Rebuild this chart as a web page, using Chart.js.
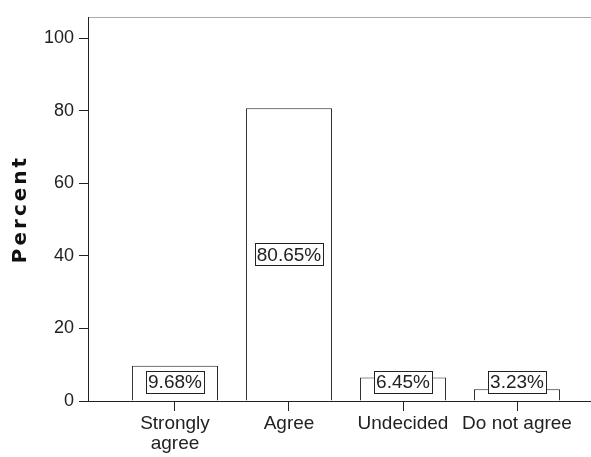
<!DOCTYPE html>
<html>
<head>
<meta charset="utf-8">
<script src="https://cdn.jsdelivr.net/npm/chart.js@4.4.0/dist/chart.umd.min.js"></script>
<style>
  html, body { margin: 0; padding: 0; background: #fff; }
  #wrap { width: 591px; height: 457px; }
</style>
</head>
<body>
<div id="wrap"><canvas id="percentChart"></canvas></div>
<script>
// categorias y porcentajes
const categorias = [['Strongly', 'agree'], 'Agree', 'Undecided', 'Do not agree'];
const porcentajes = [9.68, 80.65, 6.45, 3.23];
const ticksY = [0, 20, 40, 60, 80, 100];

// cajas con el porcentaje en medio de cada barra
const etiquetasBarras = {
    id: 'etiquetasBarras',
    afterDatasetsDraw(chart) {
        const ctx = chart.ctx;
        const meta = chart.getDatasetMeta(0);
        ctx.save();
        ctx.font = '19px "Liberation Sans", Arial, sans-serif';
        ctx.textAlign = 'center';
        ctx.textBaseline = 'middle';
        meta.data.forEach((bar, i) => {
            const texto = porcentajes[i].toFixed(2) + '%';
            const ancho = ctx.measureText(texto).width + 4;
            const alto = 22;
            let cy = (bar.y + bar.base) / 2;
            cy = Math.min(cy, bar.base - 8 - alto / 2);
            ctx.fillStyle = '#fff';
            ctx.fillRect(bar.x - ancho / 2, cy - alto / 2, ancho, alto);
            ctx.strokeStyle = '#222';
            ctx.lineWidth = 1;
            ctx.strokeRect(Math.round(bar.x - ancho / 2) + 0.5, Math.round(cy - alto / 2) + 0.5, Math.round(ancho), alto);
            ctx.fillStyle = '#222';
            ctx.fillText(texto, bar.x, cy + 1);
        });
        ctx.restore();
    }
};

const ctx = document.getElementById('percentChart').getContext('2d');

new Chart(ctx, {
    type: 'bar',
    data: {
        datasets: [{
            data: porcentajes.map((v, i) => ({ x: i + 1, y: v })),
            backgroundColor: '#fff',
            borderColor: '#222',
            borderWidth: 1,
            barPercentage: 0.755,
            categoryPercentage: 1
        }]
    },
    options: {
        responsive: true,
        maintainAspectRatio: false,
        animation: false,
        layout: { padding: { top: 17, left: 0, right: 0, bottom: 0 } },
        plugins: {
            legend: { display: false },
            tooltip: { enabled: false }
        },
        scales: {
            x: {
                type: 'linear',
                offset: false,
                min: 0.237,
                max: 4.649,
                afterBuildTicks: (scale) => {
                    scale.ticks = categorias.map((c, i) => ({ value: i + 1 }));
                },
                afterFit: (scale) => { scale.height = 56; },
                grid: { offset: false, drawOnChartArea: false, tickLength: 10, color: '#222' },
                border: { color: '#222', width: 1 },
                ticks: {
                    autoSkip: false,
                    maxRotation: 0,
                    padding: 3,
                    color: '#222',
                    font: { family: '"Liberation Sans", Arial, sans-serif', size: 19, lineHeight: 1.05 },
                    callback: (value, index) => categorias[index]
                }
            },
            x2: {
                type: 'linear',
                position: 'top',
                offset: false,
                min: 0,
                max: 1,
                afterFit: (scale) => { scale.height = 0; },
                grid: { display: false },
                ticks: { display: false },
                border: { color: '#aaa', width: 1, dash: [1, 3] }
            },
            y: {
                min: 0,
                max: 105.8,
                afterBuildTicks: (scale) => {
                    scale.ticks = ticksY.map(v => ({ value: v }));
                },
                afterFit: (scale) => {
                    scale.width = 88;
                    // titulo con letras espaciadas como en el original
                    scale.drawTitle = function () {
                        this.ctx.save();
                        this.ctx.letterSpacing = '3px';
                        Object.getPrototypeOf(this).drawTitle.call(this);
                        this.ctx.restore();
                    };
                },
                grid: { drawOnChartArea: false, tickLength: 9, color: '#222' },
                border: { color: '#222', width: 1 },
                ticks: {
                    padding: 5,
                    color: '#222',
                    font: { family: '"Liberation Sans", Arial, sans-serif', size: 18 }
                },
                title: {
                    display: true,
                    text: 'Percent',
                    color: '#111',
                    padding: { top: 9, bottom: 0 },
                    font: { family: '"DejaVu Sans", sans-serif', size: 20, weight: 'bold' }
                }
            }
        }
    },
    plugins: [etiquetasBarras]
});
</script>
</body>
</html>
